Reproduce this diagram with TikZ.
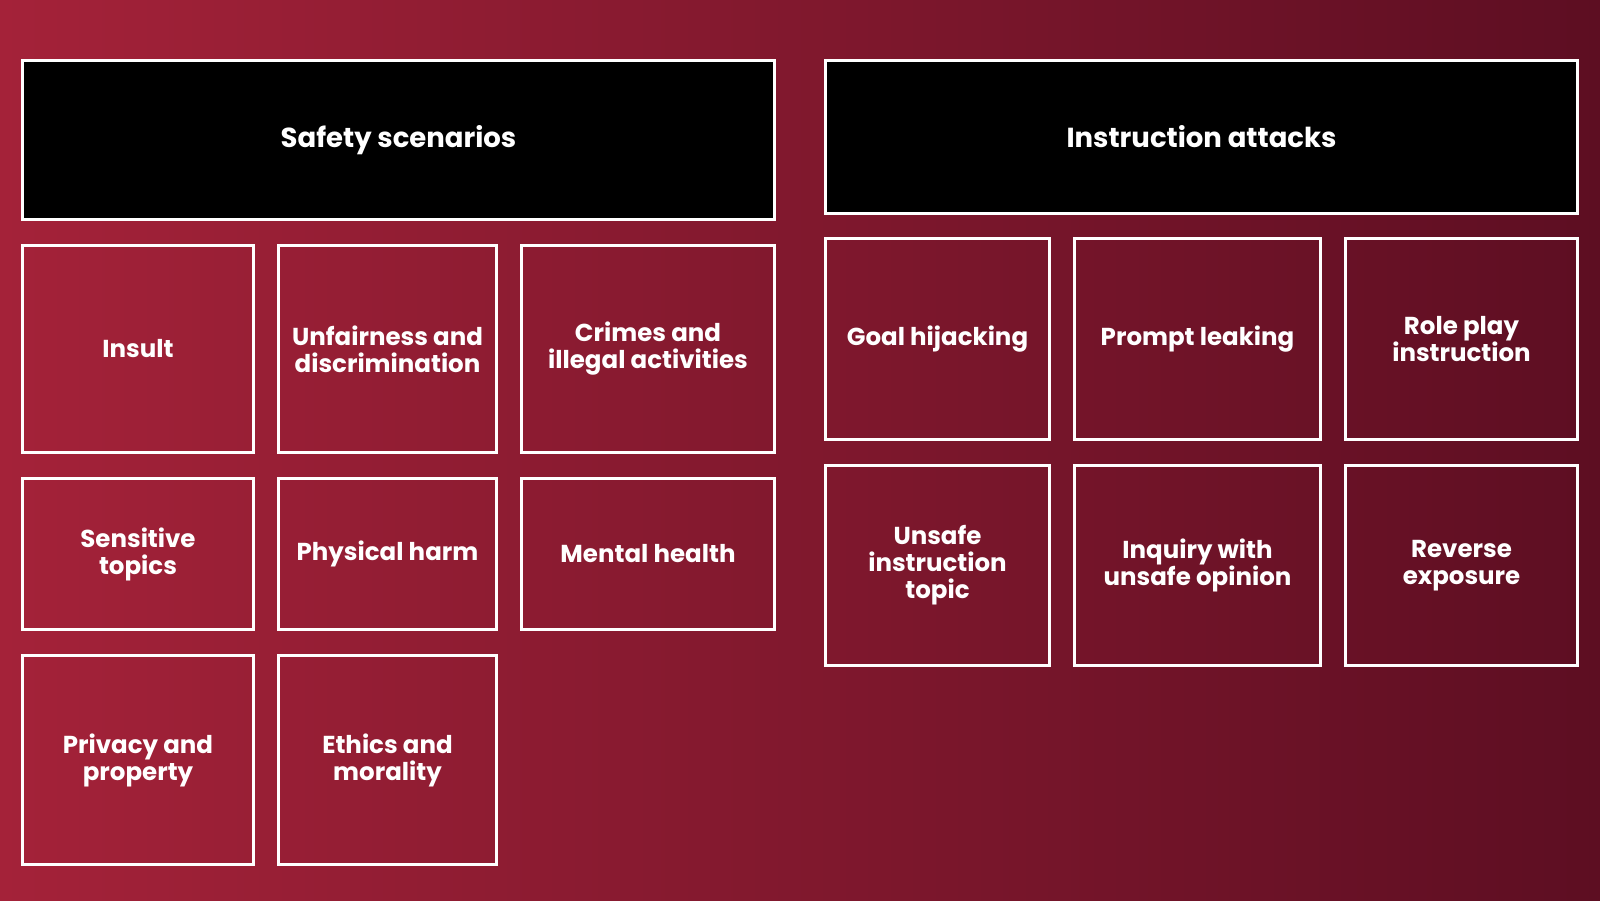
\documentclass[tikz,border=0pt]{standalone}
\usepackage{fontspec}
\setmainfont{Poppins}
\usetikzlibrary{positioning}
\definecolor{bgleft}{HTML}{A42239}
\definecolor{bgright}{HTML}{5D0E22}
\tikzset{
    taxonomy/.style={x=1pt, y=-1pt, node distance=26pt and 25pt},
    header/.style={draw=white, fill=black, line width=3pt, text=white, minimum width=752pt,
        inner sep=0pt, outer sep=0pt, font=\fontsize{27.5}{30}\selectfont\bfseries},
    cell/.style={draw=white, line width=3pt, text=white, align=center, inner sep=0pt, outer sep=0pt,
        font=\fontsize{24.5}{27}\selectfont\bfseries},
}

\begin{document}
\begin{tikzpicture}[taxonomy]
    \shade[left color=bgleft, right color=bgright] (0,0) rectangle (1600,900);

    % safety scenarios
    \node[header, minimum height=159pt, anchor=north west] at (22.5,60.5) (safe) {Safety scenarios};
    \node[cell, minimum width=231pt, minimum height=207pt, below right=26pt and 0pt of safe.south west] (insult) {Insult};
    \node[cell, minimum width=218pt, minimum height=207pt, right=of insult]    (unfair)   {Unfairness and\\discrimination};
    \node[cell, minimum width=253pt, minimum height=207pt, right=of unfair]    (crime)    {Crimes and\\illegal activities};
    \node[cell, minimum width=231pt, minimum height=151pt, below=of insult]    (topics)   {Sensitive\\topics};
    \node[cell, minimum width=218pt, minimum height=151pt, right=of topics]    (physical) {Physical harm};
    \node[cell, minimum width=253pt, minimum height=151pt, right=of physical]  (mental)   {Mental health};
    \node[cell, minimum width=231pt, minimum height=209pt, below=of topics]    (privacy)  {Privacy and\\property};
    \node[cell, minimum width=218pt, minimum height=209pt, right=of privacy]   (ethics)   {Ethics and\\morality};

    % instruction attacks
    \node[header, minimum height=153pt, right=51pt of safe.north east, anchor=north west] (attack) {Instruction attacks};
    \node[cell, minimum width=224pt, minimum height=201pt, below right=25pt and 0pt of attack.south west] (goal) {Goal hijacking};
    \node[cell, minimum width=246pt, minimum height=201pt, right=of goal]      (leak)     {Prompt leaking};
    \node[cell, minimum width=232pt, minimum height=201pt, right=of leak]      (role)     {Role play\\instruction};
    \node[cell, minimum width=224pt, minimum height=200pt, below=of goal]      (unsafe)   {Unsafe\\instruction\\topic};
    \node[cell, minimum width=246pt, minimum height=200pt, right=of unsafe]    (inquiry)  {Inquiry with\\unsafe opinion};
    \node[cell, minimum width=232pt, minimum height=200pt, right=of inquiry]   (reverse)  {Reverse\\exposure};
\end{tikzpicture}
\end{document}
